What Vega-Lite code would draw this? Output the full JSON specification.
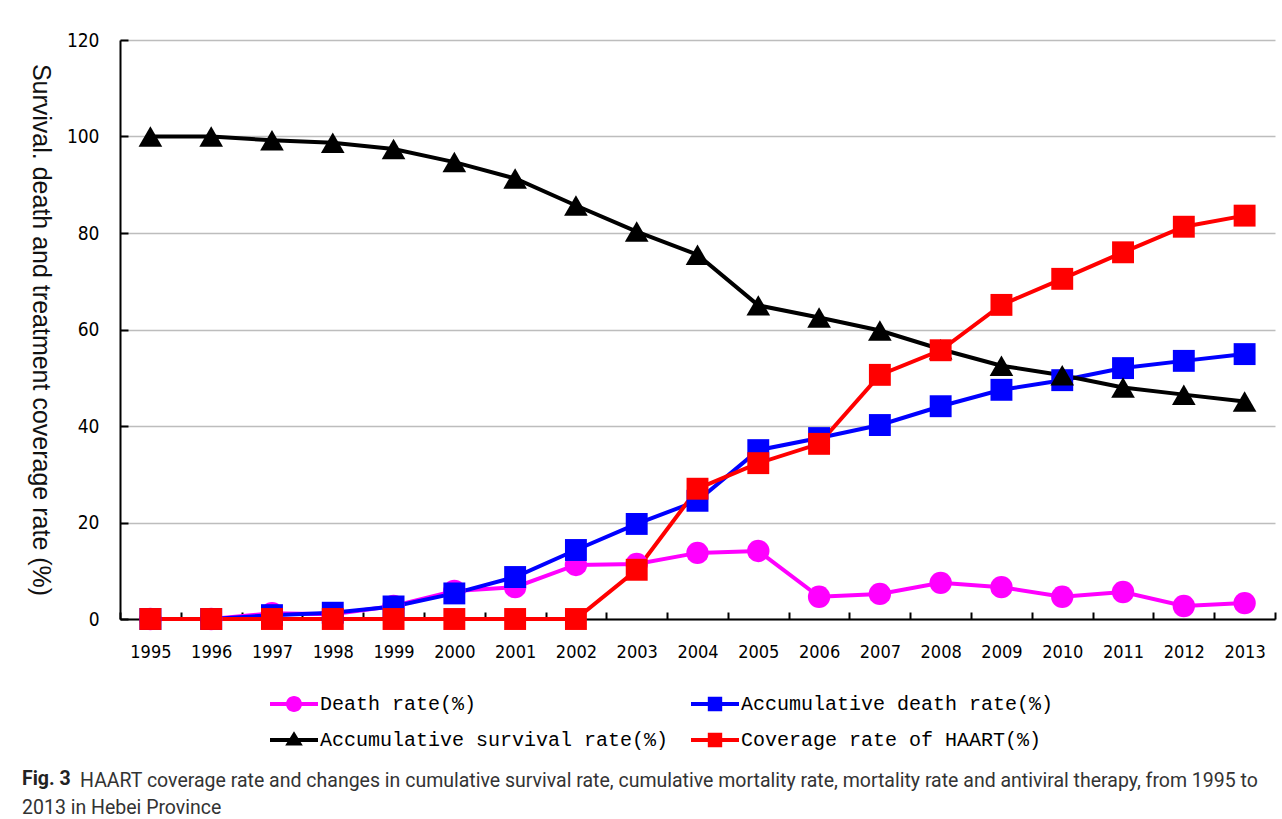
{
  "$schema": "https://vega.github.io/schema/vega-lite/v6.json",
  "autosize": {"type": "none"},
  "width": 1155,
  "height": 579,
  "padding": {"left": 120, "top": 40, "right": 7, "bottom": 200},
  "background": "white",
  "title": {
    "text": "Fig. 3",
    "subtitle": ["\u200b\u00a0\u00a0\u00a0\u00a0\u00a0\u00a0\u00a0\u00a0\u00a0\u00a0\u00a0\u00a0HAART coverage rate and changes in cumulative survival rate, cumulative mortality rate, mortality rate and antiviral therapy, from 1995 to", "2013 in Hebei Province"],
    "orient": "bottom",
    "anchor": "start",
    "frame": "group",
    "dx": -98,
    "offset": 20,
    "font": "Roboto",
    "fontSize": 19.5,
    "fontWeight": "bold",
    "color": "#222222",
    "subtitleFont": "Roboto",
    "subtitleFontSize": 19.5,
    "subtitleColor": "#333333",
    "subtitleLineHeight": 27,
    "subtitlePadding": -18
  },
  "data": {
    "values": [
      {"year": "1995", "series": "Death rate(%)", "v": 0},
      {"year": "1996", "series": "Death rate(%)", "v": 0},
      {"year": "1997", "series": "Death rate(%)", "v": 1.2},
      {"year": "1998", "series": "Death rate(%)", "v": 1.0},
      {"year": "1999", "series": "Death rate(%)", "v": 2.7},
      {"year": "2000", "series": "Death rate(%)", "v": 5.8},
      {"year": "2001", "series": "Death rate(%)", "v": 6.6},
      {"year": "2002", "series": "Death rate(%)", "v": 11.2},
      {"year": "2003", "series": "Death rate(%)", "v": 11.4},
      {"year": "2004", "series": "Death rate(%)", "v": 13.7},
      {"year": "2005", "series": "Death rate(%)", "v": 14.1},
      {"year": "2006", "series": "Death rate(%)", "v": 4.6},
      {"year": "2007", "series": "Death rate(%)", "v": 5.2},
      {"year": "2008", "series": "Death rate(%)", "v": 7.5},
      {"year": "2009", "series": "Death rate(%)", "v": 6.6},
      {"year": "2010", "series": "Death rate(%)", "v": 4.6},
      {"year": "2011", "series": "Death rate(%)", "v": 5.6},
      {"year": "2012", "series": "Death rate(%)", "v": 2.7},
      {"year": "2013", "series": "Death rate(%)", "v": 3.3},
      {"year": "1995", "series": "Accumulative death rate(%)", "v": 0},
      {"year": "1996", "series": "Accumulative death rate(%)", "v": 0},
      {"year": "1997", "series": "Accumulative death rate(%)", "v": 0.8},
      {"year": "1998", "series": "Accumulative death rate(%)", "v": 1.3},
      {"year": "1999", "series": "Accumulative death rate(%)", "v": 2.6},
      {"year": "2000", "series": "Accumulative death rate(%)", "v": 5.3},
      {"year": "2001", "series": "Accumulative death rate(%)", "v": 8.7},
      {"year": "2002", "series": "Accumulative death rate(%)", "v": 14.3},
      {"year": "2003", "series": "Accumulative death rate(%)", "v": 19.7},
      {"year": "2004", "series": "Accumulative death rate(%)", "v": 24.5},
      {"year": "2005", "series": "Accumulative death rate(%)", "v": 35.0},
      {"year": "2006", "series": "Accumulative death rate(%)", "v": 37.5},
      {"year": "2007", "series": "Accumulative death rate(%)", "v": 40.2},
      {"year": "2008", "series": "Accumulative death rate(%)", "v": 44.1},
      {"year": "2009", "series": "Accumulative death rate(%)", "v": 47.5},
      {"year": "2010", "series": "Accumulative death rate(%)", "v": 49.5},
      {"year": "2011", "series": "Accumulative death rate(%)", "v": 52.0},
      {"year": "2012", "series": "Accumulative death rate(%)", "v": 53.5},
      {"year": "2013", "series": "Accumulative death rate(%)", "v": 54.9},
      {"year": "1995", "series": "Accumulative survival rate(%)", "v": 100},
      {"year": "1996", "series": "Accumulative survival rate(%)", "v": 100},
      {"year": "1997", "series": "Accumulative survival rate(%)", "v": 99.2},
      {"year": "1998", "series": "Accumulative survival rate(%)", "v": 98.7},
      {"year": "1999", "series": "Accumulative survival rate(%)", "v": 97.4},
      {"year": "2000", "series": "Accumulative survival rate(%)", "v": 94.7},
      {"year": "2001", "series": "Accumulative survival rate(%)", "v": 91.3},
      {"year": "2002", "series": "Accumulative survival rate(%)", "v": 85.7},
      {"year": "2003", "series": "Accumulative survival rate(%)", "v": 80.3},
      {"year": "2004", "series": "Accumulative survival rate(%)", "v": 75.5},
      {"year": "2005", "series": "Accumulative survival rate(%)", "v": 65.0},
      {"year": "2006", "series": "Accumulative survival rate(%)", "v": 62.5},
      {"year": "2007", "series": "Accumulative survival rate(%)", "v": 59.8},
      {"year": "2008", "series": "Accumulative survival rate(%)", "v": 55.9},
      {"year": "2009", "series": "Accumulative survival rate(%)", "v": 52.5},
      {"year": "2010", "series": "Accumulative survival rate(%)", "v": 50.5},
      {"year": "2011", "series": "Accumulative survival rate(%)", "v": 48.0},
      {"year": "2012", "series": "Accumulative survival rate(%)", "v": 46.5},
      {"year": "2013", "series": "Accumulative survival rate(%)", "v": 45.1},
      {"year": "1995", "series": "Coverage rate of HAART(%)", "v": 0},
      {"year": "1996", "series": "Coverage rate of HAART(%)", "v": 0},
      {"year": "1997", "series": "Coverage rate of HAART(%)", "v": 0},
      {"year": "1998", "series": "Coverage rate of HAART(%)", "v": 0},
      {"year": "1999", "series": "Coverage rate of HAART(%)", "v": 0},
      {"year": "2000", "series": "Coverage rate of HAART(%)", "v": 0},
      {"year": "2001", "series": "Coverage rate of HAART(%)", "v": 0},
      {"year": "2002", "series": "Coverage rate of HAART(%)", "v": 0},
      {"year": "2003", "series": "Coverage rate of HAART(%)", "v": 10.2},
      {"year": "2004", "series": "Coverage rate of HAART(%)", "v": 27.0},
      {"year": "2005", "series": "Coverage rate of HAART(%)", "v": 32.3},
      {"year": "2006", "series": "Coverage rate of HAART(%)", "v": 36.3},
      {"year": "2007", "series": "Coverage rate of HAART(%)", "v": 50.6},
      {"year": "2008", "series": "Coverage rate of HAART(%)", "v": 55.7},
      {"year": "2009", "series": "Coverage rate of HAART(%)", "v": 65.1},
      {"year": "2010", "series": "Coverage rate of HAART(%)", "v": 70.5},
      {"year": "2011", "series": "Coverage rate of HAART(%)", "v": 76.0},
      {"year": "2012", "series": "Coverage rate of HAART(%)", "v": 81.3},
      {"year": "2013", "series": "Coverage rate of HAART(%)", "v": 83.6}
    ]
  },
  "encoding": {
    "x": {
      "field": "year", "type": "ordinal",
      "scale": {"type": "band", "paddingInner": 0, "paddingOuter": 0},
      "axis": {
        "title": null, "labelAngle": 0, "tickBand": "extent",
        "tickSize": -7, "tickColor": "black", "tickWidth": 2,
        "domainColor": "black", "domainWidth": 2,
        "labelFont": "Liberation Sans Narrow, DejaVu Sans Condensed, Liberation Sans",
        "labelFontSize": 18, "labelColor": "black", "labelPadding": 31, "grid": false
      }
    },
    "y": {
      "field": "v", "type": "quantitative",
      "scale": {"domain": [0, 120], "nice": false},
      "axis": {
        "values": [0, 20, 40, 60, 80, 100, 120],
        "title": "Survival. death and treatment coverage rate (%)",
        "titleAngle": 90, "titleX": -80, "titleY": 289.5,
        "titleAlign": "center", "titleBaseline": "middle",
        "titleFont": "Liberation Sans", "titleFontSize": 25, "titleFontWeight": "normal", "titleColor": "#111111",
        "tickSize": -8, "tickColor": "black", "tickWidth": 2,
        "domainColor": "black", "domainWidth": 2,
        "gridColor": "#bdbdbd", "gridWidth": 1.5,
        "labelFont": "Liberation Sans Narrow, DejaVu Sans Condensed, Liberation Sans",
        "labelFontSize": 19, "labelColor": "black", "labelPadding": 29
      }
    },
    "color": {
      "field": "series", "type": "nominal",
      "scale": {
        "domain": ["Death rate(%)", "Accumulative death rate(%)", "Accumulative survival rate(%)", "Coverage rate of HAART(%)"],
        "range": ["#ff00ff", "#0000ff", "#000000", "#ff0000"]
      },
      "legend": {
        "orient": "none", "legendX": 158, "legendY": 648,
        "direction": "horizontal",
        "title": null, "columns": 2, "padding": 0,
        "columnPadding": 22, "rowPadding": 10,
        "symbolSize": 1024, "labelOffset": 10,
        "labelFont": "Liberation Mono", "labelFontSize": 20, "labelColor": "black",
        "labelLimit": 500,
        "encode": {
          "symbols": {
            "update": {
              "shape": {"signal": "datum.value === 'Death rate(%)' ? 'M-1.5,-0.125H1.5V0.125H-1.5Z M-0.5,0A0.5,0.5 0 1,1 0.5,0A0.5,0.5 0 1,1 -0.5,0Z' : datum.value === 'Accumulative survival rate(%)' ? 'M-1.5,-0.125H1.5V0.125H-1.5Z M0,-0.55L0.55,0.35L-0.55,0.35Z' : 'M-1.5,-0.125H1.5V0.125H-1.5Z M-0.45,-0.45H0.45V0.45H-0.45Z'"},
              "fill": {"signal": "scale('color', datum.value)"},
              "stroke": {"value": "transparent"},
              "strokeWidth": {"value": 0},
              "opacity": {"value": 1}
            }
          }
        }
      }
    }
  },
  "layer": [
    {
      "mark": {"type": "line", "strokeWidth": 4}
    },
    {
      "transform": [{"filter": "datum.series === 'Death rate(%)'"}],
      "mark": {"type": "point", "filled": true, "opacity": 1, "size": 500, "shape": "circle"}
    },
    {
      "transform": [{"filter": "datum.series === 'Accumulative death rate(%)'"}],
      "mark": {"type": "point", "filled": true, "opacity": 1, "size": 480, "shape": "square"}
    },
    {
      "transform": [{"filter": "datum.series === 'Accumulative survival rate(%)'"}],
      "mark": {"type": "point", "filled": true, "opacity": 1, "size": 560, "shape": "triangle-up"}
    },
    {
      "transform": [{"filter": "datum.series === 'Coverage rate of HAART(%)'"}],
      "mark": {"type": "point", "filled": true, "opacity": 1, "size": 480, "shape": "square"}
    }
  ],
  "config": {
    "view": {"stroke": null}
  }
}
